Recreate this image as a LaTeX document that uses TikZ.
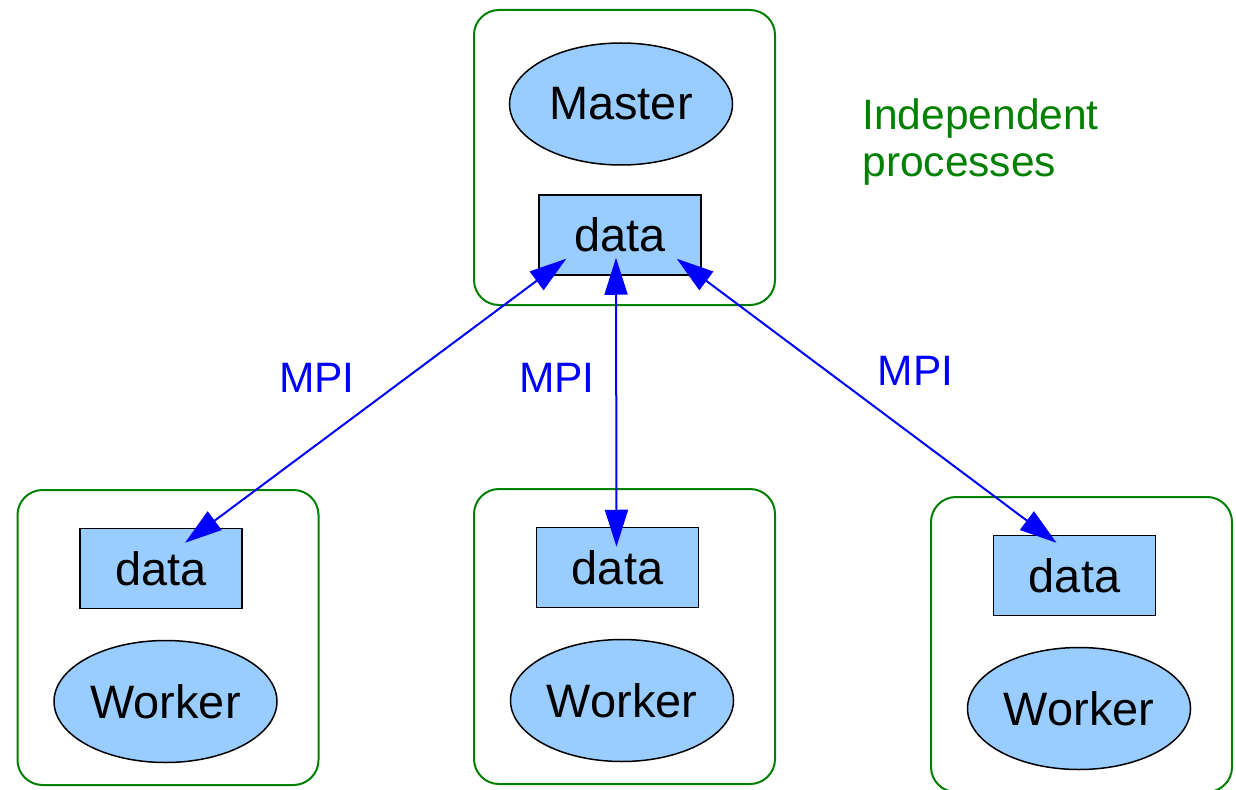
\documentclass[tikz,border=0pt]{standalone}
\usepackage{fontspec}
\setmainfont{Liberation Sans}
\usetikzlibrary{shapes.geometric,arrows.meta}

\definecolor{procgreen}{HTML}{008000}
\definecolor{mpiblue}{HTML}{0000FF}
\definecolor{nodeblue}{HTML}{99CCFF}

\newcommand{\bigtext}{\fontsize{26.7}{32}\selectfont}
\newcommand{\lbltext}{\fontsize{24.2}{27}\selectfont}

\begin{document}
\begin{tikzpicture}[
    proc/.style={rectangle, rounded corners=0.5cm, draw=procgreen, line width=0.04cm,
        minimum width=6.02cm, minimum height=5.9cm},
    role/.style={ellipse, draw, fill=nodeblue, line width=0.03cm, inner sep=0pt,
        minimum width=4.46cm, minimum height=2.44cm, font=\bigtext},
    buf/.style={rectangle, draw, fill=nodeblue, line width=0.03cm, inner sep=0pt,
        minimum width=3.24cm, minimum height=1.6cm, font=\bigtext},
    mpi/.style={{Triangle[length=0.74cm,width=0.46cm]}-{Triangle[length=0.74cm,width=0.46cm]},
        draw=mpiblue, line width=0.04cm},
    lbl/.style={text=mpiblue, font=\lbltext, anchor=base, inner sep=0pt}
]
    \useasboundingbox (0,0) rectangle (24.72,15.78);

    % master process
    \node[proc] (pm) at (12.49,12.63) {};
    \node[role] (master) at (12.42,13.70) {Master};
    \node[buf] (mdata) at (12.40,11.08) {data};

    \node[text=procgreen, font=\lbltext, align=left, anchor=north west, inner sep=0pt]
        (indep) at (17.24,13.82) {Independent\\processes};

    % worker processes
    \foreach \n/\x/\y in {l/3.36/3.03, c/12.49/3.05, r/21.63/2.89} {
        \node[proc] (p\n) at (\x,\y) {};
        \node[buf] (\n data) at (\x-0.14,\y+1.38) {data};
        \node[role] (\n worker) at (\x-0.05,\y-1.28) {Worker};
    }

    \draw[mpi] ([shift={(0.56,0.34)}]mdata.south west) -- ([shift={(0.48,-0.30)}]ldata.north);
    \draw[mpi] ([shift={(-0.08,0.36)}]mdata.south) -- ([shift={(-0.02,-0.40)}]cdata.north);
    \draw[mpi] ([shift={(-0.50,0.34)}]mdata.south east) -- ([shift={(-0.36,-0.16)}]rdata.north);

    \node[lbl] (mpil) at (6.34,7.93) {MPI};
    \node[lbl] (mpic) at (11.14,7.93) {MPI};
    \node[lbl] (mpir) at (18.31,8.08) {MPI};
\end{tikzpicture}
\end{document}
